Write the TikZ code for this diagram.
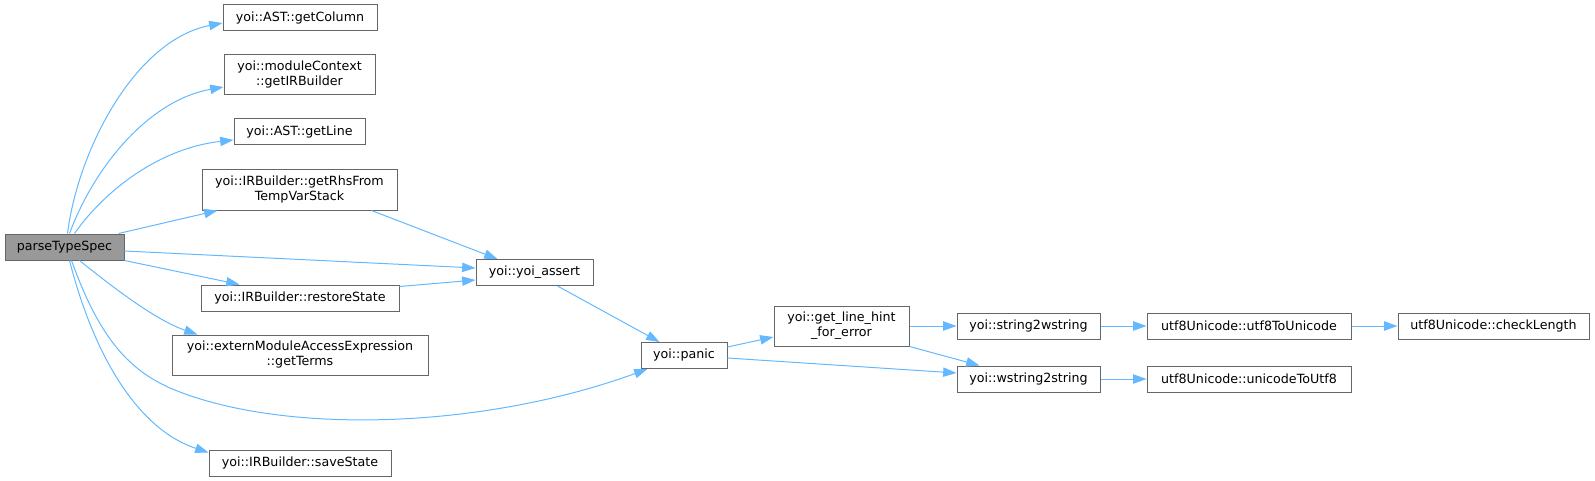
\documentclass[tikz,border=0pt]{standalone}
\usepackage{fontspec}
\setmainfont{DejaVu Sans}
\usetikzlibrary{arrows.meta,calc}
\definecolor{edgeblue}{HTML}{63B8FF}
\definecolor{boxgray}{HTML}{666666}
\definecolor{fillgray}{HTML}{999999}
\begin{document}
\begin{tikzpicture}[x=0.75pt,y=-0.75pt,
  fn/.style={draw=boxgray, line width=0.75pt, fill=white, inner sep=0pt, align=center,
             font=\fontsize{9.5}{11.25}\selectfont},
  cur/.style={fn, fill=fillgray},
  sz/.style 2 args={minimum width=#1*0.75pt, minimum height=#2*0.75pt},
  call/.style={draw=edgeblue, line width=0.75pt, -{Triangle[length=10pt,width=7pt]}}]
\useasboundingbox (0,0) rectangle (1595,481);

% nodes
\node[cur, sz={119}{26}] (parse) at (64.5,247) {parseTypeSpec};
\node[fn, sz={154}{26}] (gc) at (300,18) {yoi::AST::getColumn};
\node[fn, sz={151}{40}] (gib) at (299.5,75) {yoi::moduleContext\\::getIRBuilder};
\node[fn, sz={131}{26}] (gl) at (299.5,132) {yoi::AST::getLine};
\node[fn, sz={195}{40}] (rhs) at (299.5,190) {yoi::IRBuilder::getRhsFrom\\TempVarStack};
\node[fn, sz={117}{26}] (assert) at (534.5,272.5) {yoi::yoi\_assert};
\node[fn, sz={198}{26}] (restore) at (300,298) {yoi::IRBuilder::restoreState};
\node[fn, sz={256}{40}] (terms) at (300,355) {yoi::externModuleAccessExpression\\::getTerms};
\node[fn, sz={86}{26}] (panic) at (684,355.5) {yoi::panic};
\node[fn, sz={182}{26}] (save) at (300,463) {yoi::IRBuilder::saveState};
\node[fn, sz={135}{40}] (glh) at (841.5,326) {yoi::get\_line\_hint\\\_for\_error};
\node[fn, sz={143}{26}] (s2w) at (1028.5,326) {yoi::string2wstring};
\node[fn, sz={143}{26}] (w2s) at (1028.5,379) {yoi::wstring2string};
\node[fn, sz={204}{26}] (u2u) at (1249,326) {utf8Unicode::utf8ToUnicode};
\node[fn, sz={204}{26}] (u2f) at (1249,379) {utf8Unicode::unicodeToUtf8};
\node[fn, sz={191}{26}] (cl) at (1493.5,326) {utf8Unicode::checkLength};

% edges from parseTypeSpec
\draw[call] ($(parse.north west)+(63,0)$) .. controls (78,150) and (135,40) .. ($(gc.west)+(0,5)$);
\draw[call] ($(parse.north west)+(65,0)$) .. controls (95,165) and (150,100) .. ($(gib.west)+(0,12)$);
\draw[call] ($(parse.north west)+(70,0)$) .. controls (105,190) and (160,148) .. ($(gl.west)+(0,8)$);
\draw[call] ($(parse.north east)+(-6,0)$) -- ($(rhs.south west)+(16,0)$);
\draw[call] ($(parse.east)+(0,4)$) -- ($(assert.west)+(0,-4.5)$);
\draw[call] (parse.south east) -- ($(restore.north west)+(39,0)$);
\draw[call] ($(parse.south west)+(75,0)$) .. controls (110,285) and (155,320) .. ($(terms.north west)+(26,0)$);
\draw[call] ($(parse.south west)+(67,0)$) .. controls (100,340) and (130,370) .. (170,388)
   .. controls (280,435) and (480,430) .. ($(panic.south west)+(7,0)$);
\draw[call] ($(parse.south west)+(65,0)$) .. controls (95,360) and (140,430) .. ($(save.north west)+(0,3)$);

% other edges
\draw[call] ($(rhs.south east)+(-26,0)$) -- ($(assert.north west)+(22,0)$);
\draw[call] ($(restore.north east)+(0,2)$) -- ($(assert.west)+(0,7.5)$);
\draw[call] ($(assert.south west)+(82,0)$) -- ($(panic.north west)+(19,0)$);
\draw[call] ($(panic.east)+(0,-8.5)$) -- ($(glh.west)+(0,11)$);
\draw[call] ($(panic.east)+(0,2.5)$) -- ($(w2s.west)+(0,-6)$);
\draw[call] (glh.east) -- (s2w.west);
\draw[call] (glh.south east) -- ($(w2s.north west)+(23,0)$);
\draw[call] (s2w.east) -- (u2u.west);
\draw[call] (w2s.east) -- (u2f.west);
\draw[call] (u2u.east) -- (cl.west);
\end{tikzpicture}
\end{document}
